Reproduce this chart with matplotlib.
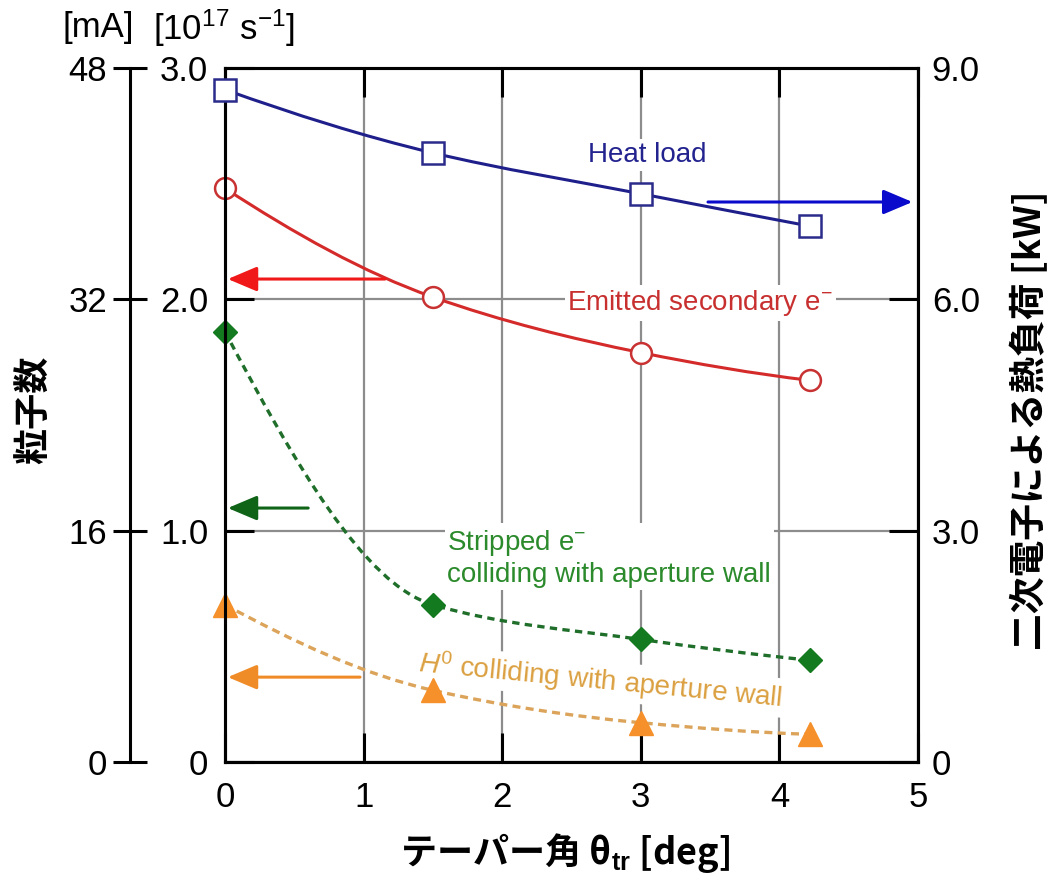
import numpy as np
import matplotlib
matplotlib.use('Agg')
import matplotlib.pyplot as plt
from matplotlib.path import Path
from matplotlib.patches import PathPatch

plt.rcParams['font.family'] = ['Liberation Sans', 'Noto Sans CJK JP', 'DejaVu Sans']
plt.rcParams['mathtext.fontset'] = 'custom'
plt.rcParams['mathtext.rm'] = 'Liberation Sans'
plt.rcParams['mathtext.it'] = 'Liberation Sans:italic'
plt.rcParams['mathtext.bf'] = 'Liberation Sans:bold'

# taper angle [deg]
taper = [0.0, 1.5, 3.0, 4.22]
# heat load by secondary electrons [kW] (right axis)
heat_load = [8.72, 7.90, 7.37, 6.95]
# particle counts [1e17 s^-1] (left axis)
emitted = [2.48, 2.01, 1.77, 1.65]
stripped = [1.86, 0.68, 0.53, 0.44]
h0 = [0.68, 0.31, 0.17, 0.12]

x_ticks = [0, 1, 2, 3, 4, 5]
y_ticks = [0, 1, 2, 3]
y_ticklabels = ['0', '1.0', '2.0', '3.0']
ma_ticks = [0, 16, 32, 48]
kw_ticks = [0, 3, 6, 9]
kw_ticklabels = ['0', '3.0', '6.0', '9.0']


def smooth_curve(xs, ys):
    # monotone (pchip-like) tangents, drawn as cubic bezier segments
    xs = np.asarray(xs, float)
    ys = np.asarray(ys, float)
    h = np.diff(xs)
    d = np.diff(ys) / h
    n = len(xs)
    m = np.zeros(n)
    for i in range(1, n - 1):
        if d[i - 1] * d[i] <= 0:
            m[i] = 0
        else:
            w1 = 2 * h[i] + h[i - 1]
            w2 = h[i] + 2 * h[i - 1]
            m[i] = (w1 + w2) / (w1 / d[i - 1] + w2 / d[i])
    m[0] = ((2 * h[0] + h[1]) * d[0] - h[0] * d[1]) / (h[0] + h[1])
    m[-1] = ((2 * h[-1] + h[-2]) * d[-1] - h[-1] * d[-2]) / (h[-1] + h[-2])
    verts = [(xs[0], ys[0])]
    codes = [Path.MOVETO]
    for i in range(n - 1):
        verts.append((xs[i] + h[i] / 3, ys[i] + m[i] * h[i] / 3))
        verts.append((xs[i + 1] - h[i] / 3, ys[i + 1] - m[i + 1] * h[i] / 3))
        verts.append((xs[i + 1], ys[i + 1]))
        codes += [Path.CURVE4] * 3
    return Path(verts, codes)


fig = plt.figure(figsize=(10.52, 8.76), dpi=100)
ax = fig.add_axes([0.2139, 0.1301, 0.6587, 0.7922])
ax.set_xlim(0, 5)
ax.set_ylim(0, 3)
ax.set_xticks(x_ticks)
ax.set_yticks(y_ticks)
ax.set_yticklabels(y_ticklabels)
ax.grid(True, color='#8c8c8c', lw=1.6, zorder=0)
ax.set_axisbelow(True)
ax.tick_params(direction='in', length=21, width=2.2, labelsize=25, top=True, right=False, pad=12)
ax.tick_params(axis='x', pad=14)
for s in ax.spines.values():
    s.set_linewidth(2.2)

axr = ax.twinx()
axr.set_ylim(0, 9)
axr.set_yticks(kw_ticks)
axr.set_yticklabels(kw_ticklabels)
axr.tick_params(direction='in', length=21, width=2.2, labelsize=25, pad=10)
for s in axr.spines.values():
    s.set_linewidth(2.2)

axm = ax.twinx()
axm.set_ylim(0, 48)
axm.set_yticks(ma_ticks)
axm.spines['left'].set_position(('axes', -0.137))
axm.spines['left'].set_visible(True)
axm.spines['left'].set_linewidth(2.2)
for k in ['right', 'top', 'bottom']:
    axm.spines[k].set_visible(False)
axm.yaxis.set_ticks_position('left')
axm.yaxis.set_label_position('left')
axm.tick_params(direction='inout', length=25, width=2.2, labelsize=25, pad=4)

# curves
axr.add_patch(PathPatch(smooth_curve(taper, heat_load), fill=False, ec='#1f1f8c', lw=2.2, zorder=3))
axr.plot(taper, heat_load, ls='none', marker='s', ms=16, mfc='white', mec='#2b2b8c', mew=1.8,
         zorder=4, clip_on=False)

ax.add_patch(PathPatch(smooth_curve(taper, emitted), fill=False, ec='#d42a2a', lw=2.2, zorder=3))
ax.plot(taper, emitted, ls='none', marker='o', ms=15, mfc='white', mec='#c83232', mew=1.8,
        zorder=4, clip_on=False)

ax.add_patch(PathPatch(smooth_curve(taper, stripped), fill=False, ec='#1f6e2a', lw=2.4,
                       ls=(0, (2.2, 1.6)), zorder=3))
ax.plot(taper, stripped, ls='none', marker='D', ms=12, mfc='#137a1f', mec='#137a1f',
        zorder=4, clip_on=False)

ax.add_patch(PathPatch(smooth_curve(taper, h0), fill=False, ec='#dba45a', lw=2.4,
                       ls=(0, (2.4, 1.6)), zorder=3))
ax.plot(taper, h0, ls='none', marker='^', ms=17, mfc='#f5902a', mec='#f5902a',
        zorder=4, clip_on=False)

# arrows pointing to the corresponding axis
def arrow(x0, x1, y, color):
    ax.annotate('', xy=(x1, y), xytext=(x0, y),
                arrowprops=dict(arrowstyle='-|>,head_length=0.9,head_width=0.38', color=color,
                                lw=2.2, mutation_scale=20, shrinkA=0, shrinkB=0), zorder=5)

arrow(3.485, 4.96, 2.421, '#0a0acc')
arrow(1.154, 0.02, 2.088, '#f01818')
arrow(0.60, 0.02, 1.098, '#0f6418')
arrow(0.974, 0.02, 0.367, '#f08c28')

bb = dict(facecolor='white', edgecolor='none', pad=2)
ax.text(2.62, 2.624, 'Heat load', color='#23238f', fontsize=20, ha='left', va='center', zorder=2, bbox=bb)
ax.text(2.47, 1.984, 'Emitted secondary e$^{-}$', color='#c83030', fontsize=20, ha='left', va='center',
        zorder=2, bbox=bb)
ax.text(1.605, 0.884, 'Stripped e$^{-}$\ncolliding with aperture wall', color='#2b8a2b', fontsize=20,
        ha='left', va='center', linespacing=1.2, zorder=2, bbox=bb)
ax.text(2.71, 0.352, '$H^{0}$ colliding with aperture wall', color='#dba040', fontsize=20,
        ha='center', va='center', rotation=-5.5, rotation_mode='anchor', zorder=2, bbox=bb)

# unit headers and axis titles
fig.text(0.093, 1 - 28 / 876, '[mA]', fontsize=25, ha='center', va='center')
fig.text(0.213, 1 - 28 / 876, '[10$^{17}$ s$^{-1}$]', fontsize=25, ha='center', va='center')
cjk = ['Noto Sans CJK JP', 'DejaVu Sans']
fig.text(35 / 1052, 1 - 410 / 876, '粒子数', family=cjk, fontsize=26, fontweight='bold',
         rotation=90, ha='center', va='center')
fig.text(1030 / 1052, 1 - 420 / 876, '二次電子による熱負荷 [kW]', family=cjk, fontsize=26.5,
         fontweight='bold', rotation=90, ha='center', va='center')
fig.text(565 / 1052, 1 - 853 / 876, 'テーパー角 θ$_{\\mathbf{tr}}$ [deg]', family=cjk, fontsize=26,
         fontweight='bold', ha='center', va='center')

fig.savefig('out.png', dpi=100)
